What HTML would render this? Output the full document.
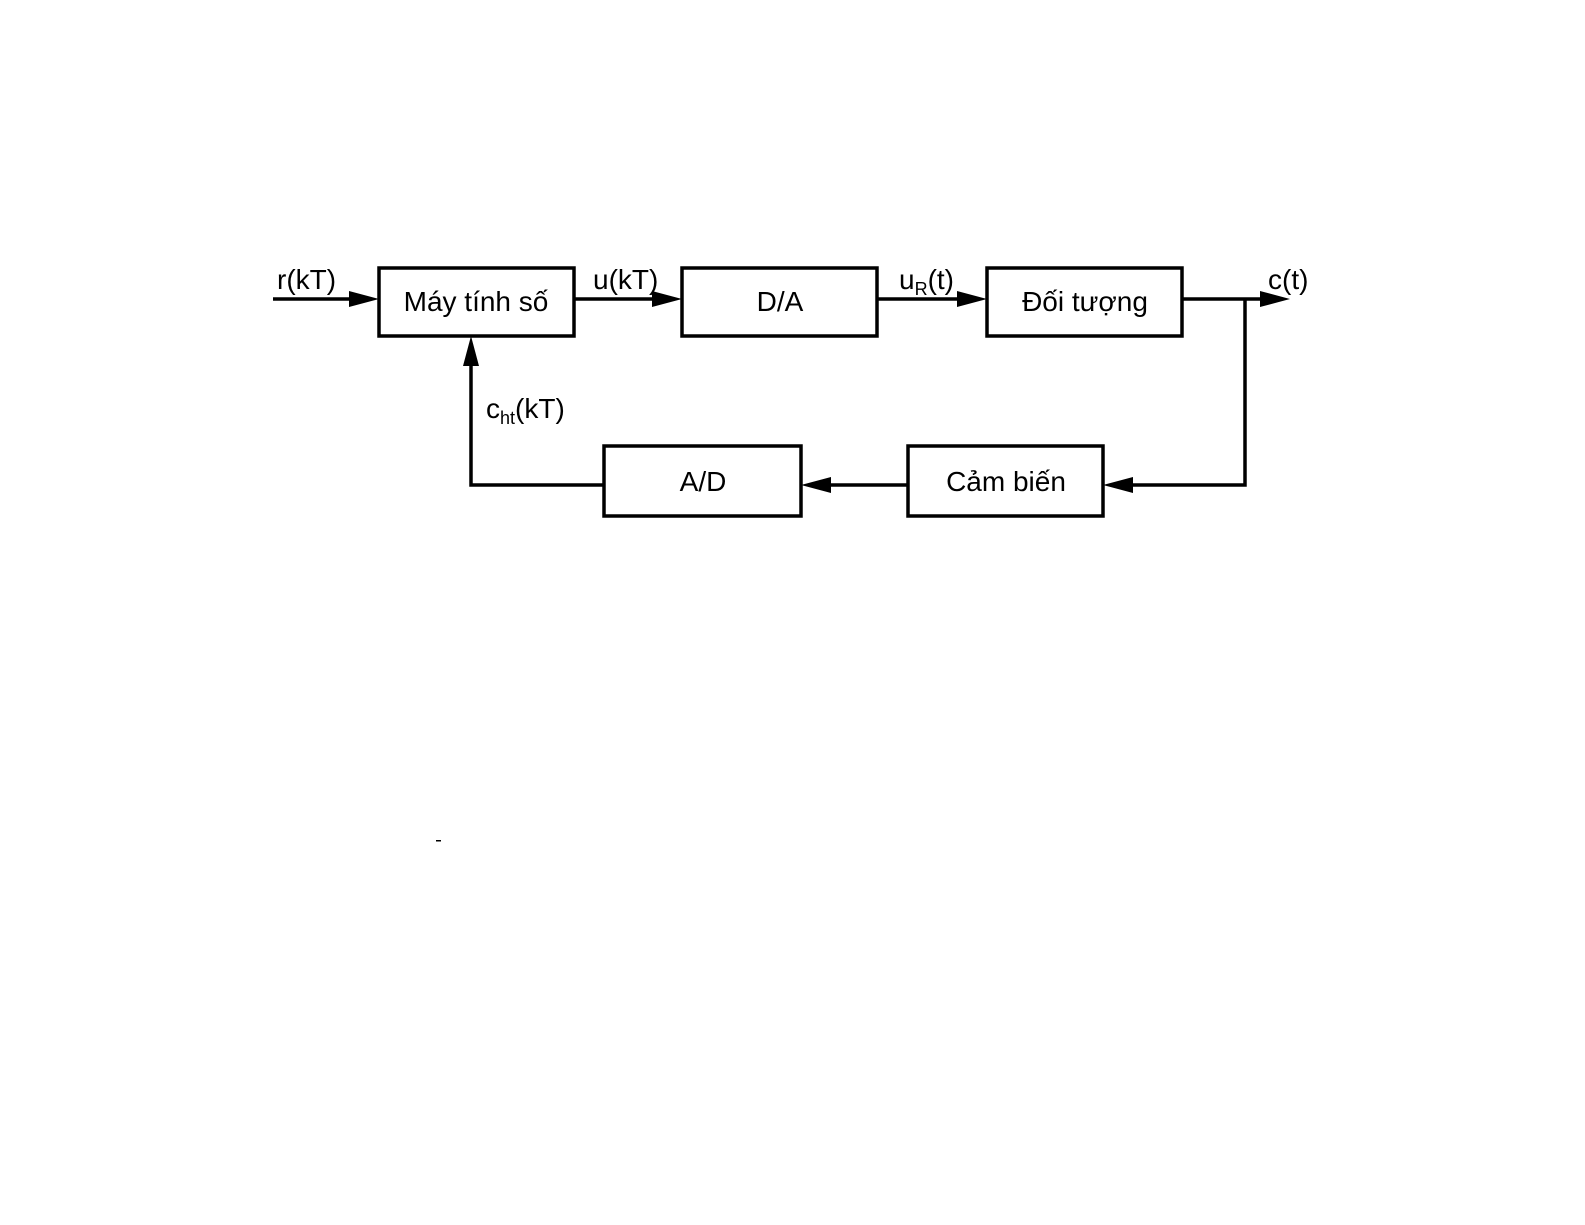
<!DOCTYPE html>
<html><head><meta charset="utf-8"><style>
html,body{margin:0;padding:0;background:#fff;}
svg{display:block;}
text{font-family:"Liberation Sans",sans-serif;fill:#000;}
</style></head><body>
<svg width="1585" height="1225" viewBox="0 0 1585 1225" xmlns="http://www.w3.org/2000/svg">
<g fill="none" stroke="#000" stroke-width="3.5">
<rect x="379" y="268" width="195" height="68"/>
<rect x="682" y="268" width="195" height="68"/>
<rect x="987" y="268" width="195" height="68"/>
<rect x="908" y="446" width="195" height="70"/>
<rect x="604" y="446" width="197" height="70"/>
<line x1="273" y1="299" x2="351" y2="299"/>
<line x1="574" y1="299" x2="654" y2="299"/>
<line x1="877" y1="299" x2="959" y2="299"/>
<line x1="1182" y1="299" x2="1262" y2="299"/>
<polyline points="1245,299 1245,485 1131,485"/>
<line x1="908" y1="485" x2="829" y2="485"/>
<polyline points="604,485 471,485 471,364"/>
</g>
<g fill="#000">
<polygon points="379,299 349,291 349,307"/>
<polygon points="682,299 652,291 652,307"/>
<polygon points="987,299 957,291 957,307"/>
<polygon points="1290,299 1260,291 1260,307"/>
<polygon points="1103,485 1133,477 1133,493"/>
<polygon points="801,485 831,477 831,493"/>
<polygon points="471,336 463,366 479,366"/>
<rect x="436" y="840" width="5" height="1.5"/>
</g>
<g font-size="28">
<text x="277" y="289">r(kT)</text>
<text x="593" y="289">u(kT)</text>
<text x="899" y="289">u<tspan font-size="18" dy="6">R</tspan><tspan dy="-6">(t)</tspan></text>
<text x="1268" y="289">c(t)</text>
<text x="486" y="418">c<tspan font-size="18" dy="6">ht</tspan><tspan dy="-6">(kT)</tspan></text>
<g text-anchor="middle">
<text x="476" y="311">Máy tính số</text>
<text x="780" y="311">D/A</text>
<text x="1085" y="311">Đối tượng</text>
<text x="1006" y="491">Cảm biến</text>
<text x="703" y="491">A/D</text>
</g>
</g>
</svg>
</body></html>
